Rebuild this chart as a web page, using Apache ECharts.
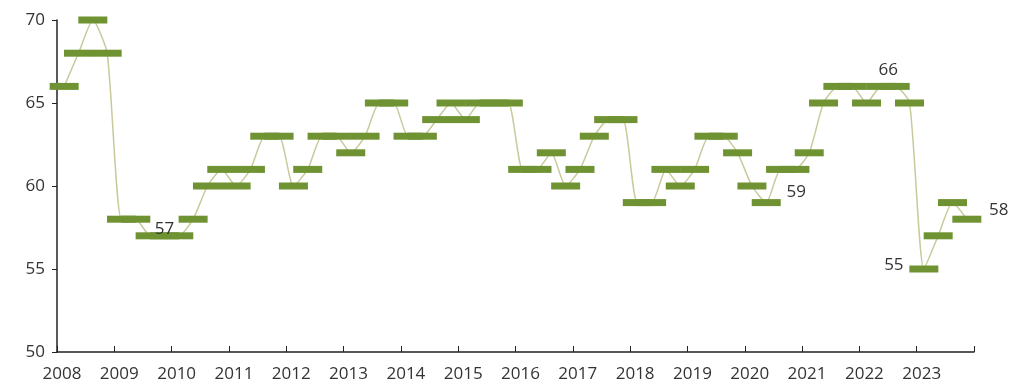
<!DOCTYPE html>
<html>
<head>
<meta charset="utf-8">
<script src="https://cdn.jsdelivr.net/npm/echarts@6/dist/echarts.min.js"></script>
<style>
  html, body { margin: 0; padding: 0; background: #fff; }
  #chart { width: 1013px; height: 385px; }
</style>
</head>
<body>
<div id="chart"></div>
<script>
// quarterly values, 2008 Q1 .. 2023 Q4
var years = ['2008', '2009', '2010', '2011', '2012', '2013', '2014', '2015',
             '2016', '2017', '2018', '2019', '2020', '2021', '2022', '2023'];
var quarters = ['Q1', 'Q2', 'Q3', 'Q4'];
var values = [
    66, 68, 70, 68,
    58, 58, 57, 57,
    57, 58, 60, 61,
    60, 61, 63, 63,
    60, 61, 63, 63,
    62, 63, 65, 65,
    63, 63, 64, 65,
    64, 65, 65, 65,
    61, 61, 62, 60,
    61, 63, 64, 64,
    59, 59, 61, 60,
    61, 63, 63, 62,
    60, 59, 61, 61,
    62, 65, 66, 66,
    65, 66, 66, 65,
    55, 57, 59, 58
];
// which points carry a value label
var labelled = [7, 49, 58, 60, 63];

var labelOffsets = {
    7: [0, -7],
    49: [30, -10],
    58: [-7, -16],
    60: [-30, -4],
    63: [32, -9]
};

var chart = echarts.init(document.getElementById('chart'));

var seriesData = values.map(function (v, i) {
    var item = { value: [i + 0.5, v], name: years[Math.floor(i / 4)] + ' ' + quarters[i % 4] };
    if (labelled.indexOf(i) >= 0) {
        item.label = {
            show: true,
            position: 'inside',
            offset: labelOffsets[i],
            formatter: String(v),
            color: '#333',
            fontSize: 17,
            fontFamily: 'Open Sans'
        };
    }
    return item;
});

var option = {
    backgroundColor: '#fff',
    animation: false,
    grid: { left: 57, right: 39, top: 20, bottom: 33 },
    xAxis: {
        type: 'value',
        min: 0,
        max: 64,
        interval: 4,
        axisLine: { show: true, lineStyle: { color: '#222', width: 1.5 } },
        axisTick: { show: true, inside: true, length: 6, lineStyle: { color: '#222' } },
        splitLine: { show: false },
        axisLabel: {
            margin: 14,
            padding: [0, 0, 0, 10],
            color: '#333',
            fontSize: 17,
            fontFamily: 'Open Sans',
            formatter: function (v) { return years[v / 4] || ''; }
        }
    },
    yAxis: {
        type: 'value',
        min: 50,
        max: 70,
        interval: 5,
        axisLine: { show: true, lineStyle: { color: '#222', width: 1.5 } },
        axisTick: { show: true, length: 5, lineStyle: { color: '#222' } },
        splitLine: { show: false },
        axisLabel: {
            margin: 12,
            color: '#333',
            fontSize: 17,
            fontFamily: 'Open Sans'
        }
    },
    series: [
        {
            type: 'line',
            data: seriesData,
            smooth: 0.2,
            symbol: 'rect',
            symbolSize: [29, 7],
            showAllSymbol: true,
            lineStyle: { color: '#c9c99b', width: 1.5 },
            itemStyle: { color: '#6f9232' },
            label: { show: false }
        }
    ]
};

chart.setOption(option);
</script>
</body>
</html>
